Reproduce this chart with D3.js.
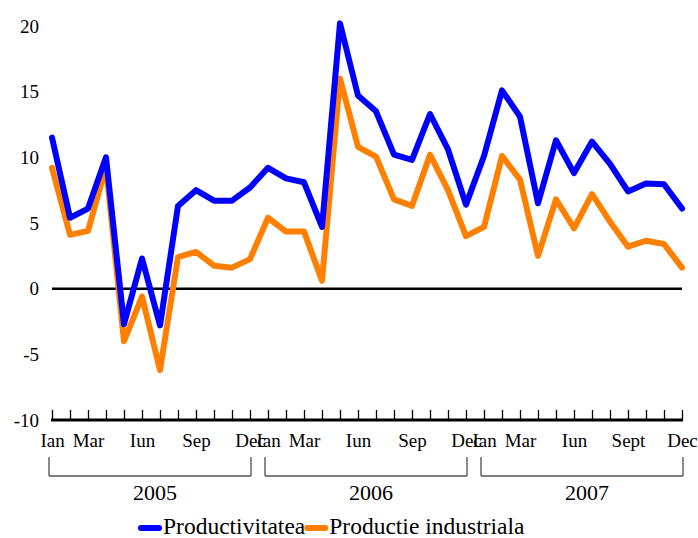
<!DOCTYPE html>
<html>
<head>
<meta charset="utf-8">
<script src="https://cdn.jsdelivr.net/npm/d3@7"></script>
<style>
  body { margin: 0; background: #fff; }
  svg text { font-family: "Liberation Serif", "Times New Roman", serif; fill: #000; }
</style>
</head>
<body>
<div id="chart"></div>
<script>
var years = ["2005", "2006", "2007"];
var monthLabels = [
	["Ian", "", "Mar", "", "", "Iun", "", "", "Sep", "", "", "Dec"],
	["Ian", "", "Mar", "", "", "Iun", "", "", "Sep", "", "", "Dec"],
	["Ian", "", "Mar", "", "", "Iun", "", "", "Sept", "", "", "Dec"]
];
var yTicks = [-10, -5, 0, 5, 10, 15, 20];

var productivitatea = [11.5, 5.4, 6.1, 10.0, -2.7, 2.3, -2.8, 6.3, 7.5, 6.7, 6.7, 7.7,
	9.2, 8.4, 8.1, 4.7, 20.2, 14.7, 13.5, 10.2, 9.8, 13.3, 10.6, 6.4,
	10.1, 15.1, 13.1, 6.5, 11.3, 8.8, 11.2, 9.5, 7.4, 8.0, 7.95, 6.1];
var productie = [9.2, 4.1, 4.4, 9.3, -4.0, -0.6, -6.2, 2.4, 2.8, 1.75, 1.6, 2.25,
	5.4, 4.35, 4.35, 0.6, 16.0, 10.8, 10.05, 6.8, 6.3, 10.2, 7.5, 4.0,
	4.7, 10.1, 8.3, 2.5, 6.8, 4.6, 7.2, 5.1, 3.2, 3.65, 3.4, 1.6];

var seriesNames = ["Productivitatea", "Productie industriala"];
var seriesColors = ["#0000ff", "#ff8000"];
var serif = '"Liberation Serif", "Times New Roman", serif';

// one key per month: "2005-0" ... "2007-11"
var months = [];
years.forEach(y => {
	for (var m = 0; m < 12; m++) months.push(y + "-" + m);
});

var svg = d3.select("#chart").append("svg")
	.attr("width", 698)
	.attr("height", 538);

var x = d3.scalePoint().domain(months).range([52, 682]);
var y = d3.scaleLinear().domain([-10, 20]).range([420, 26]);

// y labels only
var yAxis = svg.append("g")
	.attr("transform", "translate(52,0)")
	.call(d3.axisLeft(y).tickValues(yTicks).tickSize(0).tickPadding(13).tickFormat(d => String(d)));
yAxis.attr("font-family", serif).attr("font-size", 19);
yAxis.select(".domain").remove();
yAxis.selectAll("text").style("font-family", serif).style("font-size", "19px");

// zero line
svg.append("line")
	.attr("x1", x(months[0]))
	.attr("x2", x(months[months.length - 1]))
	.attr("y1", y(0))
	.attr("y2", y(0))
	.attr("stroke", "#000")
	.attr("stroke-width", 2.5);

// series, blue on top
var line = d3.line()
	.x((d, i) => x(months[i]))
	.y(d => y(d));

[productie, productivitatea].forEach((data, k) => {
	svg.append("path")
		.datum(data)
		.attr("d", line)
		.attr("fill", "none")
		.attr("stroke", k === 0 ? seriesColors[1] : seriesColors[0])
		.attr("stroke-width", 6)
		.attr("stroke-linejoin", "round")
		.attr("stroke-linecap", "round");
});

// bottom axis: ticks pointing up
var xTicks = svg.append("g")
	.attr("transform", "translate(0," + y(-10) + ")")
	.call(d3.axisTop(x).tickSize(10).tickSizeOuter(0).tickFormat(""));
xTicks.select(".domain").attr("stroke-width", 3).attr("d", "M" + (x(months[0]) - 1) + ",0H" + (x(months[months.length - 1]) + 1));
xTicks.selectAll(".tick line").attr("stroke-width", 1.3);

// month labels
var labelled = months.filter((m, i) => monthLabels[Math.floor(i / 12)][i % 12] !== "");
var xLabels = svg.append("g")
	.attr("transform", "translate(0," + y(-10) + ")")
	.call(d3.axisBottom(x).tickValues(labelled).tickSize(0).tickPadding(14)
		.tickFormat(m => {
			var i = months.indexOf(m);
			return monthLabels[Math.floor(i / 12)][i % 12];
		}));
xLabels.attr("font-family", serif).attr("font-size", 19);
xLabels.select(".domain").remove();
xLabels.selectAll("text").style("font-family", serif).style("font-size", "19px");

// year brackets
years.forEach((yr, k) => {
	var x0 = x(months[k * 12]) - 3,
		x1 = x(months[k * 12 + 11]) + 1;
	var g = svg.append("g");
	g.append("path")
		.attr("d", "M" + x0 + ",476H" + x1)
		.attr("stroke", "#7f7f7f")
		.attr("stroke-width", 1.8);
	g.append("path")
		.attr("d", "M" + x0 + ",457V476M" + x1 + ",457V476")
		.attr("stroke", "#404040")
		.attr("stroke-width", 1.2);
	g.append("text")
		.attr("x", (x0 + x1) / 2 + 5)
		.attr("y", 500)
		.attr("text-anchor", "middle")
		.style("font-size", "22px")
		.text(yr);
});

// legend
var lx = 138;
seriesNames.forEach((name, k) => {
	svg.append("line")
		.attr("x1", lx + 3)
		.attr("x2", lx + 21)
		.attr("y1", 528)
		.attr("y2", 528)
		.attr("stroke", seriesColors[k])
		.attr("stroke-width", 6)
		.attr("stroke-linecap", "round");
	var t = svg.append("text")
		.attr("x", lx + 25)
		.attr("y", 534)
		.style("font-size", "23.5px")
		.text(name);
	lx = lx + 25 + t.node().getComputedTextLength() - 1;
});
</script>
</body>
</html>
